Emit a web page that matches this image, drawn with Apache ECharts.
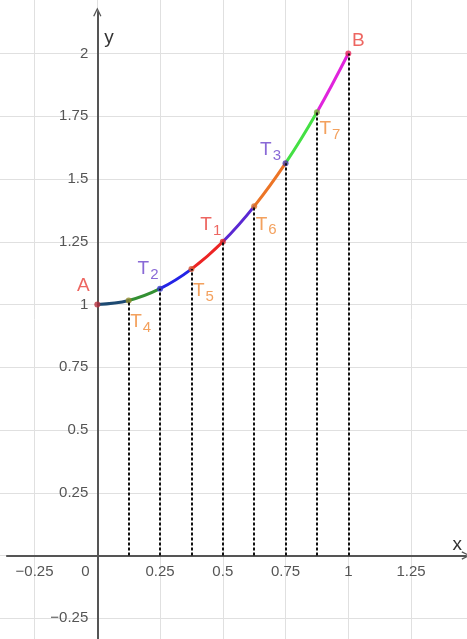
<!DOCTYPE html>
<html>
<head>
<meta charset="utf-8">
<script src="https://cdn.jsdelivr.net/npm/echarts@6/dist/echarts.min.js"></script>
<style>
html,body{margin:0;padding:0;background:#fff;}
#c{width:467px;height:639px;}
</style>
</head>
<body>
<div id="c"></div>
<script>
// ---- data ----
const xs = [0, 0.125, 0.25, 0.375, 0.5, 0.625, 0.75, 0.875, 1];
const ys = [1, 1.016, 1.063, 1.141, 1.25, 1.391, 1.563, 1.766, 2];
const pointNames = ['A', 'T4', 'T2', 'T5', 'T1', 'T6', 'T3', 'T7', 'B'];
const xTickLabels = [-0.25, 0, 0.25, 0.5, 0.75, 1, 1.25];
const yTickLabels = [-0.25, 0.25, 0.5, 0.75, 1, 1.25, 1.5, 1.75, 2];

// ---- styles ----
const segmentColors = ['#1d4a72', '#339033', '#2323e6', '#ec2424', '#5a28d2', '#ec7426', '#44e044', '#e024dc'];
const pointColors = ['#b8303c', '#8e8a2c', '#3434d0', '#d8502c', '#d82828', '#d8702c', '#4a3ca8', '#78a83c', '#e42458'];
const RED = '#e8403a', PURPLE = '#6c44cc', ORANGE = '#f08a36';
const labelStyle = {
  A:  {color: RED,    offset: [-14, -19]},
  T4: {color: ORANGE, offset: [12, 21]},
  T2: {color: PURPLE, offset: [-12, -20]},
  T5: {color: ORANGE, offset: [12, 22]},
  T1: {color: RED,    offset: [-12, -17]},
  T6: {color: ORANGE, offset: [12, 18]},
  T3: {color: PURPLE, offset: [-15, -13]},
  T7: {color: ORANGE, offset: [13, 17]},
  B:  {color: RED,    offset: [10, -13]}
};

const FONT = 'Liberation Sans, Arial, sans-serif';
const PX = 251;            // pixels per unit
const X0 = 97.3, Y0 = 555.5; // pixel of origin
function fmt(v) {
  const s = String(Math.round(v * 1000) / 1000);
  return s.replace('-', '\u2212');
}
function near(list, v) { return list.some(t => Math.abs(t - v) < 1e-6); }

const curveData = xs.map((x, i) => [x, ys[i]]);
const pieces = segmentColors.map((c, i) => ({gte: xs[i], lt: i === segmentColors.length - 1 ? 10 : xs[i + 1], color: c}));

const pointData = xs.map((x, i) => {
  const n = pointNames[i];
  const st = labelStyle[n];
  const text = n.length > 1 ? '{t|' + n[0] + '}{s|' + n.slice(1) + '}' : '{t|' + n + '}';
  return {
    value: [x, ys[i]],
    itemStyle: {color: pointColors[i]},
    label: {
      show: true, position: 'inside', offset: st.offset,
      formatter: text,
      rich: {
        t: {fontSize: 19, color: st.color, fontFamily: FONT},
        s: {fontSize: 15, color: st.color, fontFamily: FONT, padding: [12, 0, 0, 1]}
      }
    }
  };
});

const dropLines = xs.map((x, i) => [{coord: [x, 0]}, {coord: [x, ys[i]]}]).slice(1);

const ARROW = 'path://M0 10 L5 0 L10 10 L8.6 10.8 L5 3.2 L1.4 10.8 Z';
const chart = echarts.init(document.getElementById('c'), null, {renderer: 'canvas'});
chart.setOption({
  backgroundColor: '#ffffff',
  animation: false,
  grid: [
    {left: X0 - 0.5 * PX, width: 2 * PX, top: Y0 - 2.25 * PX, height: 2.75 * PX, containLabel: false, outerBoundsMode: 'none'},
    {left: X0 - 0.36 * PX, width: 1.829 * PX, top: Y0 - 2.165 * PX, height: 2.565 * PX, containLabel: false, outerBoundsMode: 'none'}
  ],
  xAxis: [
    {
      type: 'value', gridIndex: 0, min: -0.5, max: 1.5, interval: 0.25,
      position: 'bottom', offset: -0.5 * PX,
      axisLine: {show: false, onZero: false},
      axisTick: {show: false},
      splitLine: {show: true, lineStyle: {color: '#e0e0e0', width: 1}},
      axisLabel: {
        margin: 9, color: '#555', fontSize: 15, fontFamily: FONT,
        formatter: v => {
          if (!near(xTickLabels, v)) return '';
          if (Math.abs(v) < 1e-9) return '{z|0}';
          return fmt(v);
        },
        rich: {z: {fontSize: 15, color: '#555', fontFamily: FONT, padding: [0, 24, 0, 0]}}
      }
    },
    {
      type: 'value', gridIndex: 1, min: -0.36, max: 1.469,
      axisLine: {show: true, onZero: true, lineStyle: {color: '#555', width: 2},
        symbol: ['none', ARROW], symbolSize: [10, 9]},
      axisTick: {show: false}, axisLabel: {show: false}, splitLine: {show: false},
      name: 'x', nameLocation: 'end', nameGap: -4,
      nameTextStyle: {fontSize: 19, color: '#333', fontFamily: FONT, align: 'right', verticalAlign: 'bottom', padding: [0, 0, 1, 0]}
    }
  ],
  yAxis: [
    {
      type: 'value', gridIndex: 0, min: -0.5, max: 2.25, interval: 0.25,
      position: 'left', offset: -0.5 * PX,
      axisLine: {show: false, onZero: false},
      axisTick: {show: false},
      splitLine: {show: true, lineStyle: {color: '#e0e0e0', width: 1}},
      axisLabel: {
        margin: 9, color: '#555', fontSize: 15, fontFamily: FONT,
        formatter: v => near(yTickLabels, v) ? fmt(v) : ''
      }
    },
    {
      type: 'value', gridIndex: 1, min: -0.4, max: 2.165,
      axisLine: {show: true, onZero: true, lineStyle: {color: '#555', width: 2},
        symbol: ['none', ARROW], symbolSize: [10, 9]},
      axisTick: {show: false}, axisLabel: {show: false}, splitLine: {show: false},
      name: 'y', nameLocation: 'end', nameGap: -16,
      nameTextStyle: {fontSize: 19, color: '#333', fontFamily: FONT, align: 'left', verticalAlign: 'top', padding: [0, 0, 0, 7]}
    }
  ],
  visualMap: {
    show: false, type: 'piecewise', dimension: 0, seriesIndex: 1, pieces: pieces
  },
  series: [
    {
      type: 'scatter', xAxisIndex: 0, yAxisIndex: 0, data: [], silent: true, z: 2,
      markLine: {
        silent: true, symbol: ['none', 'none'], label: {show: false},
        lineStyle: {type: [3, 2], color: '#111', width: 2},
        emphasis: {disabled: true},
        data: dropLines
      }
    },
    {
      type: 'line', xAxisIndex: 0, yAxisIndex: 0, data: curveData, smooth: 0.4,
      showSymbol: false, lineStyle: {width: 3}, z: 3, silent: true
    },
    {
      type: 'scatter', xAxisIndex: 0, yAxisIndex: 0, data: pointData, symbolSize: 6, z: 4, silent: true
    }
  ]
});
</script>
</body>
</html>
